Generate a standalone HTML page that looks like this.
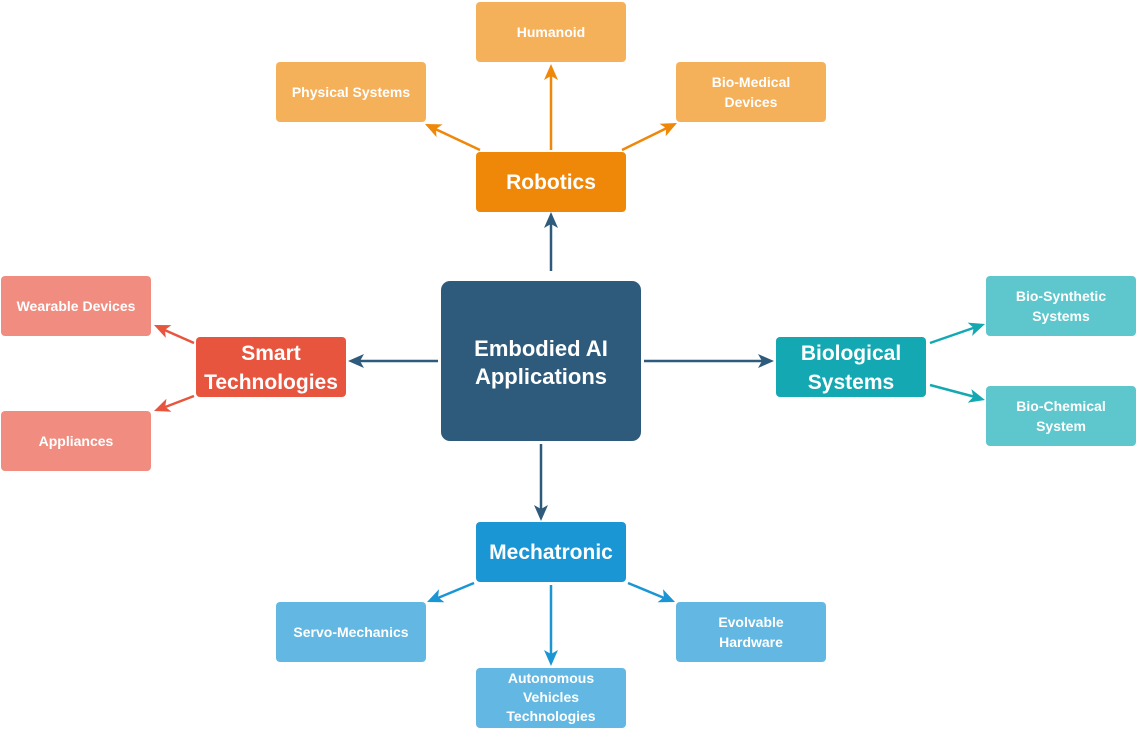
<!DOCTYPE html>
<html><head><meta charset="utf-8"><style>
html,body{margin:0;padding:0;background:#fff;}
svg{display:block}
svg text{font-family:"Liberation Sans",Arial,Helvetica,sans-serif;font-weight:bold;fill:#fff;text-anchor:middle;}
</style></head><body>
<svg width="1138" height="730" viewBox="0 0 1138 730" xmlns="http://www.w3.org/2000/svg" font-family="Liberation Sans, Arial, sans-serif">
<g stroke-width="2.5" fill="none">
<g stroke="#2e5b7b">
<line x1="551" y1="271" x2="551" y2="218"/>
<line x1="438" y1="361" x2="354" y2="361"/>
<line x1="644" y1="361" x2="768" y2="361"/>
<line x1="541" y1="444" x2="541" y2="515"/>
</g>
<g stroke="#ef8709">
<line x1="551" y1="150" x2="551" y2="70"/>
<line x1="480" y1="150" x2="431" y2="127"/>
<line x1="622" y1="150" x2="671" y2="126"/>
</g>
<g stroke="#e8553f">
<line x1="194" y1="343" x2="160" y2="328"/>
<line x1="194" y1="396" x2="160" y2="409"/>
</g>
<g stroke="#14a9b2">
<line x1="930" y1="343" x2="979" y2="326"/>
<line x1="930" y1="385" x2="979" y2="398"/>
</g>
<g stroke="#1a96d4">
<line x1="474" y1="583" x2="433" y2="600"/>
<line x1="551" y1="585" x2="551" y2="660"/>
<line x1="628" y1="583" x2="669" y2="600"/>
</g>
</g>
<g>
<g fill="#2e5b7b">
<path d="M551,212 l-7,16 l7,-4 l7,4 z"/>
<path d="M348,361 l16,-7 l-4,7 l4,7 z"/>
<path d="M774,361 l-16,-7 l4,7 l-4,7 z"/>
<path d="M541,521 l-7,-16 l7,4 l7,-4 z"/>
</g>
<g fill="#ef8709">
<path d="M551,64 l-7,16 l7,-4 l7,4 z"/>
<path transform="rotate(25 425 124)" d="M425,124 l16,-7 l-4,7 l4,7 z"/>
<path transform="rotate(-26 677 123)" d="M677,123 l-16,-7 l4,7 l-4,7 z"/>
</g>
<g fill="#e8553f">
<path transform="rotate(24 154 325)" d="M154,325 l16,-7 l-4,7 l4,7 z"/>
<path transform="rotate(-21 154 411)" d="M154,411 l16,-7 l-4,7 l4,7 z"/>
</g>
<g fill="#14a9b2">
<path transform="rotate(-19 985 324)" d="M985,324 l-16,-7 l4,7 l-4,7 z"/>
<path transform="rotate(15 985 400)" d="M985,400 l-16,-7 l4,7 l-4,7 z"/>
</g>
<g fill="#1a96d4">
<path transform="rotate(-23 427 602)" d="M427,602 l16,-7 l-4,7 l4,7 z"/>
<path d="M551,666 l-7,-16 l7,4 l7,-4 z"/>
<path transform="rotate(23 675 602)" d="M675,602 l-16,-7 l4,7 l-4,7 z"/>
</g>
</g>
<rect x="441" y="281" width="200" height="160" rx="9" fill="#2e5b7b"/>
<text x="541" y="356" font-size="22">Embodied AI</text>
<text x="541" y="384" font-size="22">Applications</text>

<rect x="476" y="152" width="150" height="60" rx="4" fill="#ef8709"/>
<text x="551" y="189" font-size="21">Robotics</text>
<rect x="476" y="2" width="150" height="60" rx="4" fill="#f5b05a"/>
<text x="551" y="37" font-size="14">Humanoid</text>
<rect x="276" y="62" width="150" height="60" rx="4" fill="#f5b05a"/>
<text x="351" y="97" font-size="14">Physical Systems</text>
<rect x="676" y="62" width="150" height="60" rx="4" fill="#f5b05a"/>
<text x="751" y="87" font-size="14">Bio-Medical</text>
<text x="751" y="107" font-size="14">Devices</text>

<rect x="196" y="337" width="150" height="60" rx="4" fill="#e8553f"/>
<text x="271" y="360" font-size="21">Smart</text>
<text x="271" y="389" font-size="21">Technologies</text>
<rect x="1" y="276" width="150" height="60" rx="4" fill="#f08d80"/>
<text x="76" y="311" font-size="14">Wearable Devices</text>
<rect x="1" y="411" width="150" height="60" rx="4" fill="#f08d80"/>
<text x="76" y="446" font-size="14">Appliances</text>

<rect x="776" y="337" width="150" height="60" rx="4" fill="#14a9b2"/>
<text x="851" y="360" font-size="21">Biological</text>
<text x="851" y="389" font-size="21">Systems</text>
<rect x="986" y="276" width="150" height="60" rx="4" fill="#5ec7cd"/>
<text x="1061" y="301" font-size="14">Bio-Synthetic</text>
<text x="1061" y="321" font-size="14">Systems</text>
<rect x="986" y="386" width="150" height="60" rx="4" fill="#5ec7cd"/>
<text x="1061" y="411" font-size="14">Bio-Chemical</text>
<text x="1061" y="431" font-size="14">System</text>

<rect x="476" y="522" width="150" height="60" rx="4" fill="#1a96d4"/>
<text x="551" y="559" font-size="21">Mechatronic</text>
<rect x="276" y="602" width="150" height="60" rx="4" fill="#62b8e2"/>
<text x="351" y="637" font-size="14">Servo-Mechanics</text>
<rect x="676" y="602" width="150" height="60" rx="4" fill="#62b8e2"/>
<text x="751" y="627" font-size="14">Evolvable</text>
<text x="751" y="647" font-size="14">Hardware</text>
<rect x="476" y="668" width="150" height="60" rx="4" fill="#62b8e2"/>
<text x="551" y="683" font-size="14">Autonomous</text>
<text x="551" y="702" font-size="14">Vehicles</text>
<text x="551" y="721" font-size="14">Technologies</text>
</svg>
</body></html>
